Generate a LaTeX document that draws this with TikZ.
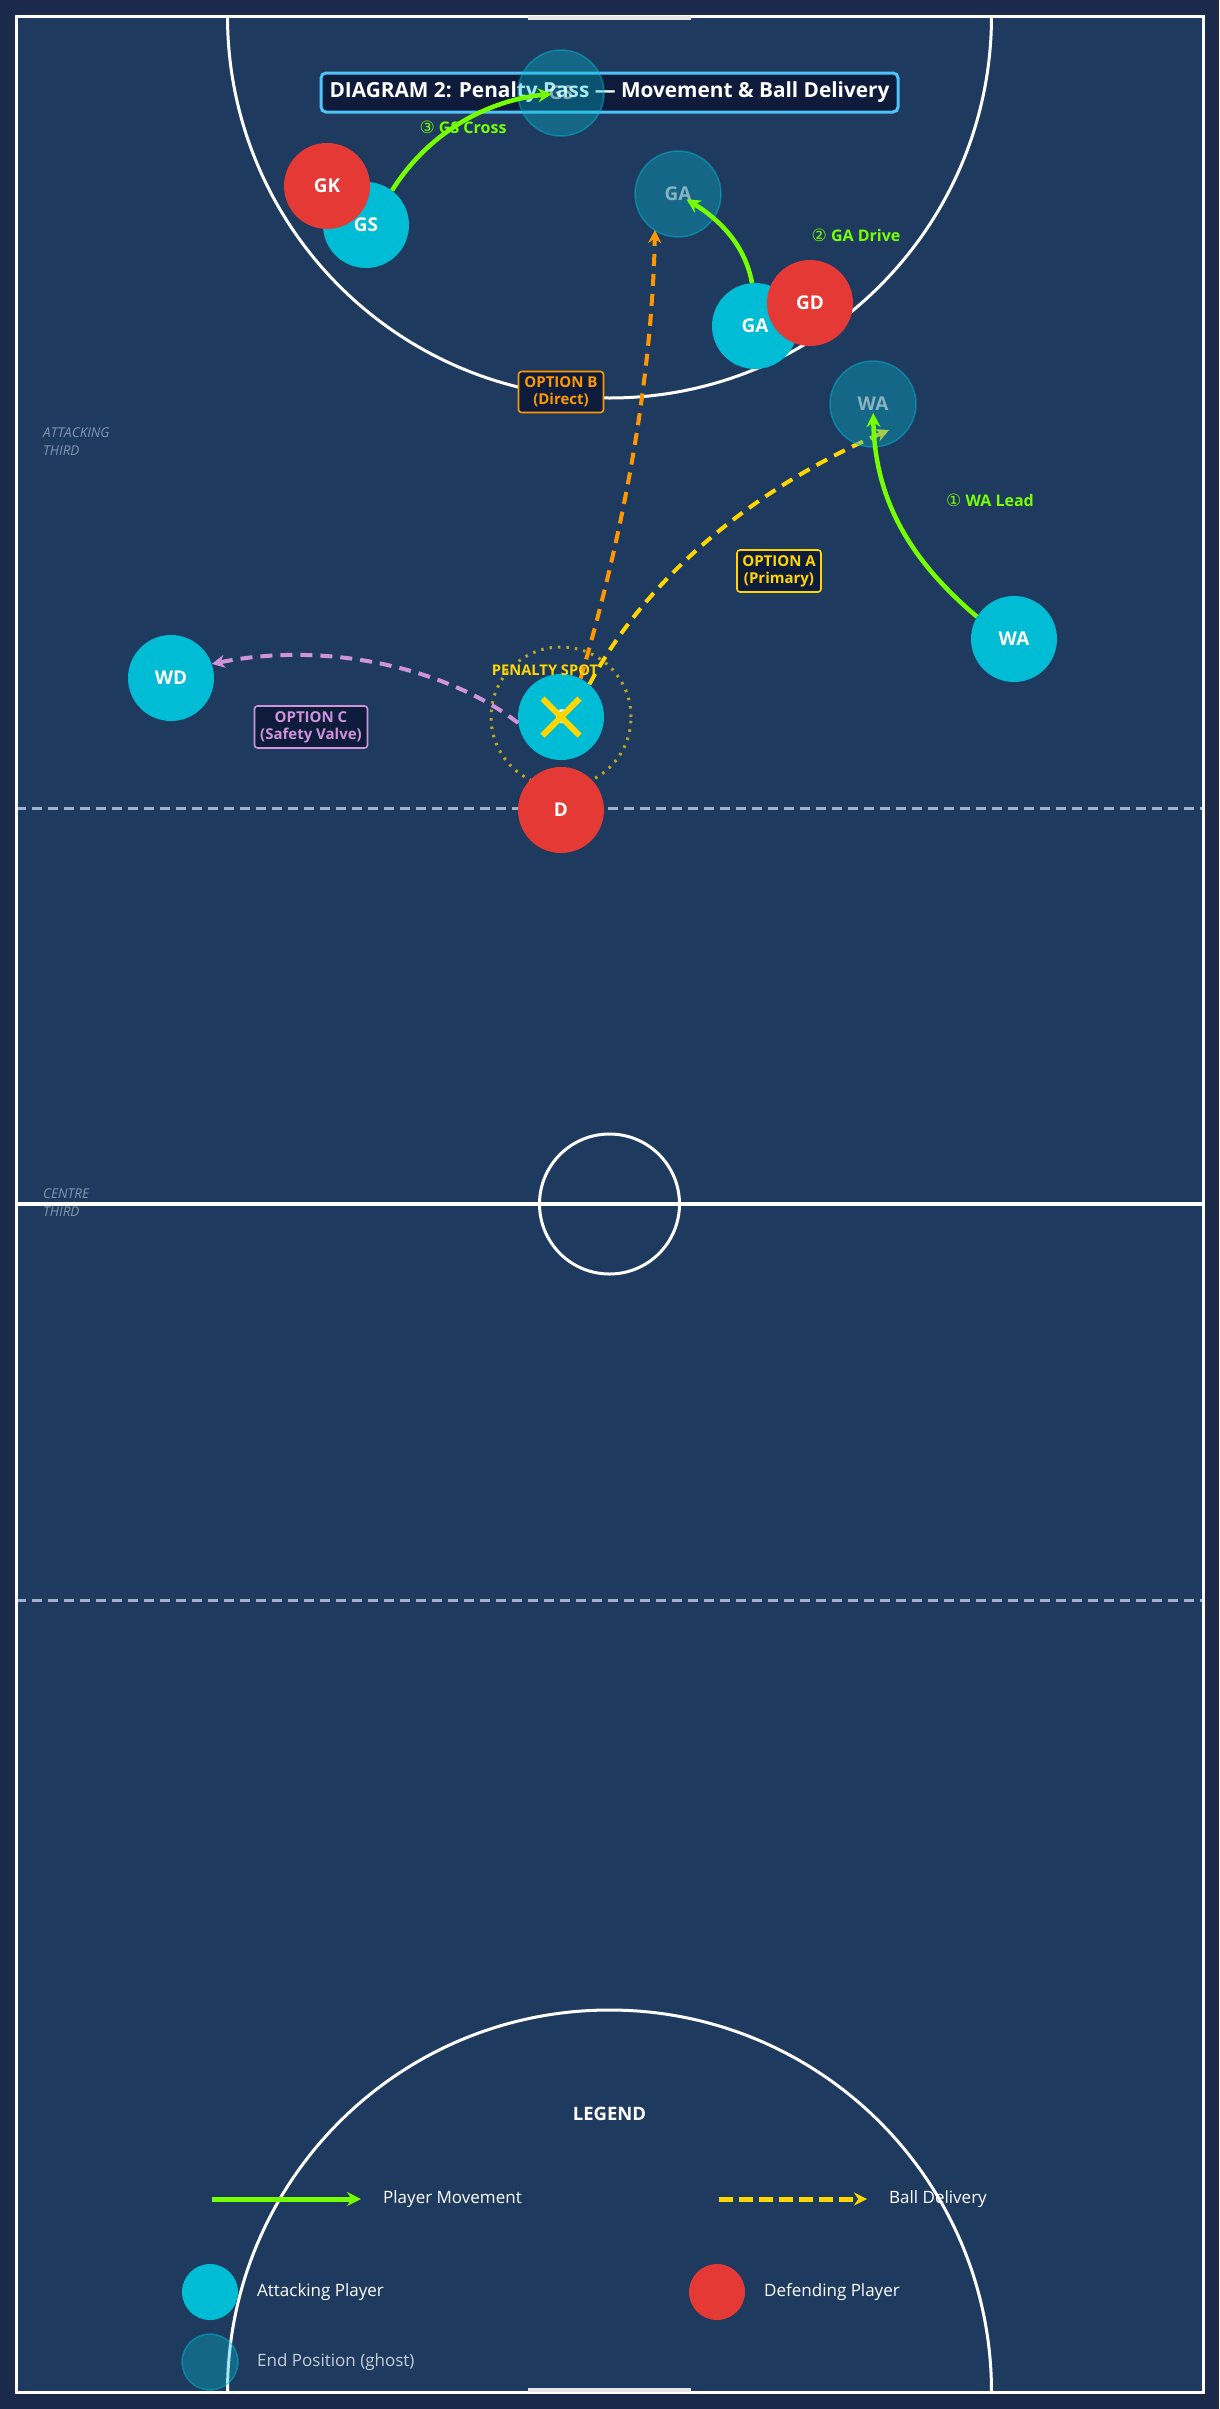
\documentclass[tikz,border=0pt]{standalone}
\usepackage{fontspec}
\setmainfont{Open Sans}
\newfontfamily\dejavu{DejaVu Sans}
\usetikzlibrary{arrows.meta}
\definecolor{outerbg}{HTML}{1B2A4A}
\definecolor{courtbg}{HTML}{1F3A5F}
\definecolor{attc}{HTML}{00BCD4}
\definecolor{defc}{HTML}{E53935}
\definecolor{movec}{HTML}{76FF03}
\definecolor{ballA}{HTML}{FFD600}
\definecolor{ballB}{HTML}{FF9800}
\definecolor{ballC}{HTML}{CE93D8}
\definecolor{titleborder}{HTML}{4FC3F7}
\definecolor{boxbg}{HTML}{0E1B3B}
\definecolor{zonetext}{HTML}{8495B0}
\definecolor{thirdc}{HTML}{A3B1C6}
\begin{document}
\begin{tikzpicture}[x=1pt,y=-1pt,
  player/.style={circle, minimum size=86pt, inner sep=0pt, text=white, font=\fontsize{19}{22}\selectfont\bfseries},
  att/.style={player, fill=attc},
  def/.style={player, fill=defc},
  ghost/.style={player, fill=attc, fill opacity=0.35, draw=attc, draw opacity=0.45, line width=1.5pt, text=white, text opacity=0.5},
  legatt/.style={circle, minimum size=56pt, inner sep=0pt, fill=attc},
  legdef/.style={circle, minimum size=56pt, inner sep=0pt, fill=defc},
  legghost/.style={circle, minimum size=56pt, inner sep=0pt, fill=attc, fill opacity=0.35, draw=attc, draw opacity=0.45, line width=1.5pt},
  move/.style={draw=movec, line width=4.5pt, -{Stealth[length=14pt,width=14pt]}},
  ball/.style={line width=4pt, dash pattern=on 12pt off 8pt, -{Stealth[length=13pt,width=13pt]}},
  optbox/.style={draw, rounded corners=3pt, line width=1.6pt, fill=boxbg, align=center, inner xsep=3pt, inner ysep=3pt, font=\fontsize{15}{17}\selectfont\bfseries},
  movelabel/.style={text=movec, font=\fontsize{16}{18}\selectfont\bfseries},
  zone/.style={text=zonetext, anchor=west, align=left, inner sep=0pt, font=\fontsize{13.5}{18}\selectfont\itshape},
  legtext/.style={text=white, anchor=west, inner sep=0pt, font=\fontsize{17}{20}\selectfont},
  thirdline/.style={draw=thirdc, line width=3pt, dash pattern=on 10pt off 6pt}
]
\useasboundingbox (0,0) rectangle (1219,2409);
\fill[outerbg] (0,0) rectangle (1219,2409);
\fill[courtbg] (16,16) rectangle (1203,2392);

% third lines
\draw[thirdline] (16,808) -- (1203,808);
\draw[thirdline] (16,1600) -- (1203,1600);

% goal circles
\begin{scope}
\clip (16,16) rectangle (1203,2392);
\draw[white, line width=3pt] (609.5,16) circle[radius=382pt];
\draw[white, line width=3pt] (609.5,2392) circle[radius=382pt];
\end{scope}

% centre line and circle
\draw[white, line width=4pt] (16,1204) -- (1203,1204);
\draw[white, line width=3pt] (609.5,1204) circle[radius=70pt];

% court border
\draw[white, line width=3pt] (16,16) rectangle (1203,2392);
% goal posts
\draw[white!80!gray, line width=4pt] (528,18) -- (691,18);
\draw[white!80!gray, line width=4pt] (528,2390) -- (691,2390);

% zone labels
\node[zone] (zatt) at (43,442) {ATTACKING\\THIRD};
\node[zone] (zcen) at (43,1203) {CENTRE\\THIRD};

% title
\node[draw=titleborder, line width=3pt, fill=boxbg, rounded corners=5pt, minimum width=577pt, minimum height=39pt, inner sep=0pt, text=white, font=\fontsize{20.8}{24}\selectfont\bfseries] (title) at (609.5,92.5) {DIAGRAM 2: Penalty Pass --- Movement \& Ball Delivery};

% penalty spot ring
\draw[ballA, draw opacity=0.7, line width=3pt, dash pattern=on 2.5pt off 6pt] (561,717) circle[radius=70pt];

% players (start)
\node[att] (GS) at (366,225) {GS};
\node[def] (GK) at (327,186) {GK};
\node[att] (GA) at (755,326) {GA};
\node[def] (GD) at (810,303) {GD};
\node[att] (WA) at (1014,639) {WA};
\node[att] (WD) at (171,678) {WD};
\node[def] (D) at (561,810) {D};
\node[att] (C) at (561,717) {C};

\coordinate (tipA) at (889,430);

% ball delivery options
\draw[ball, draw=ballB] (C.63) .. controls (630,510) and (652,364) .. (655,230);
\draw[ball, draw=ballA] (C.49) .. controls (645,580) and (750,490) .. (tipA);
\draw[ball, draw=ballC] (C.188) .. controls (450,670) and (330,640) .. (WD.19);

% ghosts
\node[ghost] (gGS) at (561,93) {GS};
\node[ghost] (gGA) at (678,194) {GA};
\node[ghost] (gWA) at (873,404) {WA};

% movement arrows
\draw[move, shorten >=9pt] (GS.53) .. controls (430,130) and (490,100) .. (gGS.center);
\draw[move, shorten >=10pt] (GA.94) .. controls (745,245) and (720,220) .. (gGA.center);
\draw[move, shorten >=9pt] (WA.149) .. controls (910,560) and (875,500) .. (gWA.center);

% yellow X on centre
\draw[ballA, line width=6pt] (542.5,698.5) -- (579.5,735.5);
\draw[ballA, line width=6pt] (542.5,735.5) -- (579.5,698.5);
\node[text=ballA, font=\fontsize{14.7}{16}\selectfont\bfseries] (pspot) at (545,670) {PENALTY SPOT};

% movement labels
\node[movelabel] (l3) at (463,127) {{\dejavu\fontsize{17}{18}\selectfont\mdseries ③} GS Cross};
\node[movelabel] (l2) at (856,235) {{\dejavu\fontsize{17}{18}\selectfont\mdseries ②} GA Drive};
\node[movelabel] (l1) at (990,500) {{\dejavu\fontsize{17}{18}\selectfont\mdseries ①} WA Lead};

% option labels
\node[optbox, draw=ballA, text=ballA, minimum width=84pt, minimum height=42pt] (oA) at (779,571) {OPTION A\\(Primary)};
\node[optbox, draw=ballB, text=ballB, minimum width=85pt, minimum height=41pt] (oB) at (561,392) {OPTION B\\(Direct)};
\node[optbox, draw=ballC, text=ballC, minimum width=113pt, minimum height=42pt] (oC) at (311,727) {OPTION C\\(Safety Valve)};

% legend
\node[text=white, font=\fontsize{18.5}{22}\selectfont\bfseries] (leg) at (609.5,2114) {LEGEND};
\coordinate (lm1) at (212,2199);
\coordinate (lm2) at (361,2199);
\draw[move, line width=5pt] (lm1) -- (lm2);
\node[legtext] (lmt) at (383,2199) {Player Movement};
\coordinate (lb1) at (719,2199);
\coordinate (lb2) at (867,2199);
\draw[ball, draw=ballA, line width=5pt, dash pattern=on 14pt off 6pt] (lb1) -- (lb2);
\node[legtext] (lbt) at (889,2199) {Ball Delivery};
\node[legatt] (la) at (210,2292) {};
\node[legtext] (lat) at (257,2292) {Attacking Player};
\node[legdef] (ld) at (717,2292) {};
\node[legtext] (ldt) at (764,2292) {Defending Player};
\node[legghost] (lg) at (210,2362) {};
\node[legtext, text=white!75!courtbg] (lgt) at (257,2362) {End Position (ghost)};
\end{tikzpicture}
\end{document}
